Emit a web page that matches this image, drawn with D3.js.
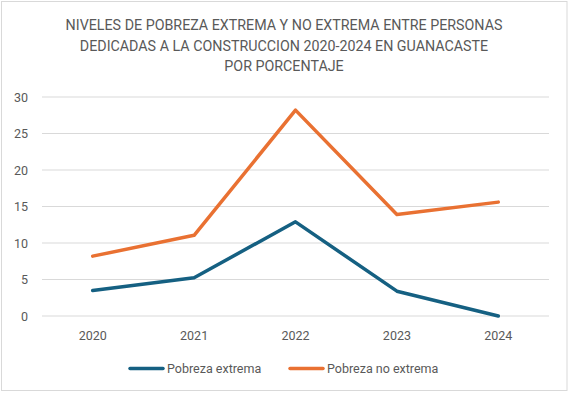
<!DOCTYPE html>
<html><head><meta charset="utf-8">
<script src="https://cdn.jsdelivr.net/npm/d3@7"></script>
<style>
body{margin:0;background:#fff;}
text{font-family:Roboto,"Liberation Sans",sans-serif;fill:#595959;}
</style></head>
<body><svg id="c" width="569" height="395"></svg>
<script>
const titleLines = ["NIVELES DE POBREZA EXTREMA Y NO EXTREMA ENTRE PERSONAS","DEDICADAS A LA CONSTRUCCION 2020-2024 EN GUANACASTE","POR PORCENTAJE"];
const years = ["2020","2021","2022","2023","2024"];
const pobrezaExtrema = [3.5, 5.25, 12.9, 3.4, 0];
const pobrezaNoExtrema = [8.2, 11.05, 28.2, 13.9, 15.6];
const yTicks = [0,5,10,15,20,25,30];
const seriesNames = ["Pobreza extrema","Pobreza no extrema"];
const colors = ["#156082","#E97132"];

const svg = d3.select("#c");
svg.append("rect").attr("x",1.5).attr("y",1.5).attr("width",565.5).attr("height",389).attr("fill","#fff").attr("stroke","#d9d9d9").attr("stroke-width",1);

const tt = svg.append("g").selectAll("text").data(titleLines).join("text")
  .attr("x",284).attr("y",(d,i)=>30+i*20.5).attr("text-anchor","middle")
  .attr("font-size",14).text(d=>d);
// fit first line to reference width
const w0 = tt.nodes()[0].getComputedTextLength();
const fs = 14*437/w0;
tt.attr("font-size",fs);

const x = d3.scaleBand().domain(years).range([42,549]).padding(0);
const y = d3.scaleLinear().domain([0,30]).range([316,97]);

const grid = svg.append("g");
grid.selectAll("line").data(yTicks).join("line")
  .attr("x1",42).attr("x2",549).attr("y1",d=>y(d)).attr("y2",d=>y(d))
  .attr("stroke","#d9d9d9").attr("stroke-width",1);

const yAxis = d3.axisLeft(y).tickValues(yTicks).tickSize(0).tickPadding(0);
const gy = svg.append("g").attr("transform","translate(28,0)").call(yAxis);
gy.select(".domain").remove();
gy.selectAll("text").attr("font-size",12.5).attr("fill","#595959").style("font-family",null);

const xAxis = d3.axisBottom(x).tickSize(0).tickPadding(0);
const gx = svg.append("g").attr("transform","translate(0,331)").call(xAxis);
gx.select(".domain").remove();
gx.selectAll("text").attr("font-size",12.5).attr("fill","#595959").attr("dy","0.71em").style("font-family",null);

const line = d3.line().x((d,i)=>x(years[i])+x.bandwidth()/2).y(d=>y(d));
[pobrezaExtrema,pobrezaNoExtrema].forEach((s,k)=>{
  svg.append("path").datum(s).attr("d",line).attr("fill","none")
    .attr("stroke",colors[k]).attr("stroke-width",3.5).attr("stroke-linejoin","round").attr("stroke-linecap","round");
});

const legX = [130,290];
seriesNames.forEach((n,k)=>{
  svg.append("line").attr("x1",legX[k]).attr("x2",legX[k]+33).attr("y1",368.5).attr("y2",368.5)
    .attr("stroke",colors[k]).attr("stroke-width",3.5).attr("stroke-linecap","round");
  svg.append("text").attr("x",legX[k]+37).attr("y",373).attr("font-size",12.5).text(n);
});
</script></body></html>
